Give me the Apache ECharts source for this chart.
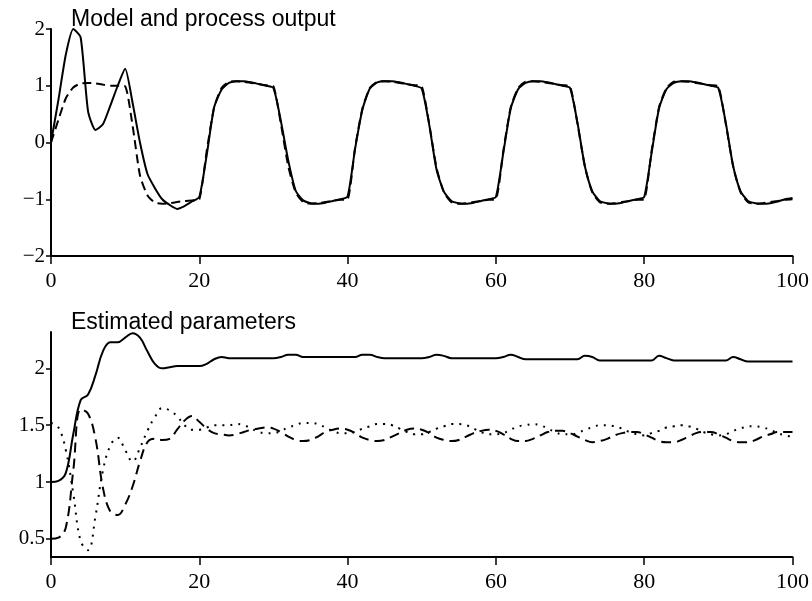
<!DOCTYPE html>
<html>
<head>
<meta charset="utf-8">
<script src="https://cdn.jsdelivr.net/npm/echarts@6/dist/echarts.min.js"></script>
<style>
  html, body { margin: 0; padding: 0; background: #fff; }
  #chart { width: 812px; height: 601px; }
</style>
</head>
<body>
<div id="chart"></div>
<script>
// top: process output (solid) and model output (dashed), t = 0..100
const processOut = [
  0, 0.75, 1.55, 2.0, 1.85, 0.55, 0.22, 0.32, 0.65, 1.0, 1.3,
  0.7, 0.0, -0.55, -0.8, -1.0, -1.1, -1.17, -1.12, -1.04, -0.96,
  -0.22, 0.62, 0.93, 1.05, 1.08, 1.08, 1.06, 1.03, 1.0, 0.96,
  0.38, -0.32, -0.85, -1.02, -1.07, -1.08, -1.06, -1.03, -1.0, -0.95,
  -0.12, 0.58, 0.95, 1.06, 1.08, 1.08, 1.06, 1.03, 1.0, 0.95,
  0.32, -0.48, -0.87, -1.03, -1.07, -1.08, -1.06, -1.03, -1.0, -0.96,
  -0.18, 0.6, 0.94, 1.05, 1.08, 1.08, 1.06, 1.03, 1.0, 0.96,
  0.35, -0.42, -0.86, -1.03, -1.07, -1.08, -1.06, -1.03, -1.0, -0.96,
  -0.18, 0.6, 0.94, 1.05, 1.08, 1.08, 1.06, 1.03, 1.0, 0.96,
  0.35, -0.42, -0.86, -1.03, -1.07, -1.08, -1.07, -1.04, -1.0, -0.98
];
const modelOut = [
  0, 0.4, 0.78, 0.97, 1.04, 1.05, 1.04, 1.02, 1.0, 1.0, 0.99,
  0.3, -0.58, -0.93, -1.06, -1.08, -1.07, -1.05, -1.03, -1.02, -1.0,
  -0.15, 0.62, 0.96, 1.07, 1.08, 1.07, 1.05, 1.03, 1.01, 0.99,
  0.33, -0.42, -0.88, -1.05, -1.08, -1.07, -1.05, -1.03, -1.01, -1.0,
  -0.1, 0.6, 0.96, 1.07, 1.08, 1.07, 1.05, 1.03, 1.01, 0.99,
  0.33, -0.45, -0.88, -1.05, -1.08, -1.07, -1.05, -1.03, -1.01, -1.0,
  -0.15, 0.62, 0.96, 1.07, 1.08, 1.07, 1.05, 1.03, 1.01, 0.99,
  0.33, -0.42, -0.88, -1.05, -1.08, -1.07, -1.05, -1.03, -1.01, -1.0,
  -0.15, 0.62, 0.96, 1.07, 1.08, 1.07, 1.05, 1.03, 1.01, 0.99,
  0.33, -0.42, -0.88, -1.05, -1.08, -1.07, -1.05, -1.03, -1.01, -1.0
];

// bottom: estimated parameters, t = 0..100
const param1 = [
  1.0, 1.01, 1.08, 1.42, 1.72, 1.77, 1.94, 2.15, 2.23, 2.23, 2.27,
  2.31, 2.27, 2.15, 2.04, 2.0, 2.01, 2.02, 2.02, 2.02, 2.02,
  2.04, 2.08, 2.1, 2.09, 2.09, 2.09, 2.09, 2.09, 2.09, 2.09,
  2.1, 2.12, 2.12, 2.1, 2.1, 2.1, 2.1, 2.1, 2.1, 2.1,
  2.1, 2.12, 2.12, 2.1, 2.09, 2.09, 2.09, 2.09, 2.09, 2.09,
  2.1, 2.12, 2.11, 2.09, 2.09, 2.09, 2.09, 2.09, 2.09, 2.09,
  2.1, 2.12, 2.1, 2.08, 2.08, 2.08, 2.08, 2.08, 2.08, 2.08,
  2.08, 2.11, 2.1, 2.07, 2.07, 2.07, 2.07, 2.07, 2.07, 2.07,
  2.07, 2.11, 2.09, 2.07, 2.07, 2.07, 2.07, 2.07, 2.07, 2.07,
  2.07, 2.1, 2.08, 2.06, 2.06, 2.06, 2.06, 2.06, 2.06, 2.06
];
const param2 = [
  0.5, 0.51, 0.6, 1.1, 1.64, 1.6, 1.38, 0.95, 0.74, 0.71, 0.8,
  0.96, 1.18, 1.35, 1.38, 1.37, 1.38, 1.46, 1.54, 1.58, 1.53,
  1.47, 1.43, 1.42, 1.41, 1.42, 1.44, 1.46, 1.47, 1.48, 1.47,
  1.44, 1.4, 1.37, 1.36, 1.37, 1.4, 1.44, 1.46, 1.47, 1.46,
  1.43, 1.39, 1.37, 1.36, 1.37, 1.4, 1.43, 1.46, 1.47, 1.46,
  1.43, 1.39, 1.37, 1.36, 1.37, 1.4, 1.43, 1.45, 1.46, 1.45,
  1.42, 1.38, 1.36, 1.36, 1.38, 1.41, 1.44, 1.45, 1.45, 1.43,
  1.4, 1.37, 1.35, 1.36, 1.38, 1.41, 1.43, 1.44, 1.44, 1.42,
  1.39, 1.36, 1.35, 1.35, 1.37, 1.4, 1.43, 1.44, 1.44, 1.42,
  1.39, 1.36, 1.35, 1.35, 1.37, 1.4, 1.42, 1.44, 1.44, 1.44
];
const param3 = [
  1.52, 1.48, 1.28, 0.9, 0.48, 0.4, 0.7, 1.1, 1.32, 1.39, 1.28,
  1.18, 1.3, 1.45, 1.57, 1.65, 1.63, 1.58, 1.5, 1.46, 1.46,
  1.48, 1.5, 1.5, 1.5, 1.51, 1.5, 1.47, 1.44, 1.43, 1.43,
  1.45, 1.48, 1.5, 1.52, 1.52, 1.51, 1.48, 1.45, 1.43, 1.43,
  1.44, 1.47, 1.49, 1.51, 1.51, 1.5, 1.47, 1.44, 1.42, 1.42,
  1.44, 1.47, 1.49, 1.51, 1.51, 1.5, 1.47, 1.44, 1.42, 1.42,
  1.43, 1.46, 1.49, 1.5, 1.51, 1.5, 1.47, 1.44, 1.42, 1.42,
  1.43, 1.46, 1.48, 1.5, 1.5, 1.49, 1.47, 1.44, 1.42, 1.41,
  1.43, 1.45, 1.48, 1.49, 1.5, 1.49, 1.47, 1.44, 1.42, 1.41,
  1.42, 1.45, 1.47, 1.49, 1.49, 1.48, 1.46, 1.43, 1.41, 1.4
];

const topTicks = [-2, -1, 0, 1, 2];
const bottomTicks = [0.5, 1, 1.5, 2];

function pairs(arr) {
  return arr.map((v, i) => [i, v]);
}

const serif = "'Liberation Serif', 'DejaVu Serif', serif";
const sans = "'Liberation Sans', Arial, sans-serif";

function xAxisOf(gridIndex) {
  return {
    type: "value",
    gridIndex: gridIndex,
    min: 0,
    max: 100,
    interval: 20,
    axisLine: { onZero: false, lineStyle: { color: "#000", width: 2 } },
    axisTick: { length: 8, lineStyle: { color: "#000", width: 1.5 } },
    axisLabel: { margin: 14, color: "#000", fontFamily: serif, fontSize: 22 },
    splitLine: { show: false }
  };
}

const chart = echarts.init(document.getElementById("chart"));
chart.setOption({
  animation: false,
  backgroundColor: "#fff",
  title: [
    {
      text: "Model and process output",
      left: 66,
      top: 3,
      textStyle: { fontFamily: sans, fontSize: 23, fontWeight: "normal", color: "#000" }
    },
    {
      text: "Estimated parameters",
      left: 66,
      top: 306,
      textStyle: { fontFamily: sans, fontSize: 23, fontWeight: "normal", color: "#000" }
    }
  ],
  grid: [
    { left: 51, top: 29, width: 744, height: 227 },
    { left: 51, top: 332, width: 744, height: 225 }
  ],
  xAxis: [xAxisOf(0), xAxisOf(1)],
  yAxis: [
    {
      type: "value",
      gridIndex: 0,
      min: topTicks[0],
      max: topTicks[topTicks.length - 1],
      interval: 1,
      axisLine: { show: true, lineStyle: { color: "#000", width: 2 } },
      axisTick: { show: true, length: 5, lineStyle: { color: "#000", width: 1.5 } },
      axisLabel: {
        margin: 6,
        color: "#000",
        fontFamily: serif,
        fontSize: 21,
        formatter: v => (v < 0 ? "\u2212" + Math.abs(v) : String(v))
      },
      splitLine: { show: false }
    },
    {
      type: "value",
      gridIndex: 1,
      min: 0.34,
      max: 2.32,
      axisLine: { show: true, lineStyle: { color: "#000", width: 2 } },
      axisTick: {
        show: true,
        length: 5,
        customValues: bottomTicks,
        lineStyle: { color: "#000", width: 1.5 }
      },
      axisLabel: {
        margin: 6,
        color: "#000",
        fontFamily: serif,
        fontSize: 21,
        customValues: bottomTicks
      },
      splitLine: { show: false }
    }
  ],
  series: [
    {
      type: "line", xAxisIndex: 0, yAxisIndex: 0, symbol: "none", smooth: 0.2,
      lineStyle: { color: "#000", width: 2 },
      data: pairs(processOut)
    },
    {
      type: "line", xAxisIndex: 0, yAxisIndex: 0, symbol: "none", smooth: 0.2,
      lineStyle: { color: "#000", width: 2, type: [9, 5] },
      data: pairs(modelOut)
    },
    {
      type: "line", xAxisIndex: 1, yAxisIndex: 1, symbol: "none", smooth: 0.4,
      lineStyle: { color: "#000", width: 2 },
      data: pairs(param1)
    },
    {
      type: "line", xAxisIndex: 1, yAxisIndex: 1, symbol: "none", smooth: 0.4,
      lineStyle: { color: "#000", width: 2, type: [10, 6] },
      data: pairs(param2)
    },
    {
      type: "line", xAxisIndex: 1, yAxisIndex: 1, symbol: "none", smooth: 0.4,
      lineStyle: { color: "#000", width: 2, type: [2, 6] },
      data: pairs(param3)
    }
  ]
});
</script>
</body>
</html>
